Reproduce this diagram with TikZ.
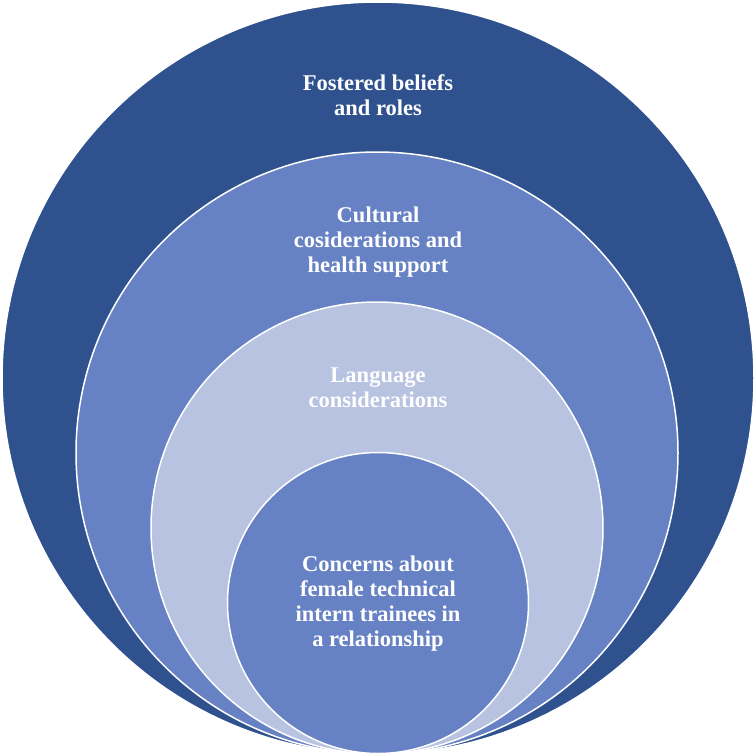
\documentclass[tikz,border=0pt]{standalone}
\usepackage{fontspec}
\setmainfont{Liberation Serif}
\definecolor{darkblue}{HTML}{2F528F}
\definecolor{midblue}{HTML}{6782C4}
\definecolor{lightblue}{HTML}{B7C3E1}
\begin{document}
\begin{tikzpicture}[x=1pt,y=-1pt,
  ring/.style={circle, draw=white, line width=1.5pt, inner sep=0pt, outer sep=0pt},
  txt/.style={text=white, align=center, font=\fontsize{22.5}{25}\selectfont\bfseries, inner sep=0pt}]
\useasboundingbox (0,0) rectangle (756,756);
\node[ring, fill=darkblue, minimum size=752pt] (c1) at (378,378) {};
\node[ring, fill=midblue, minimum size=602pt] (c2) at (377,453) {};
\node[ring, fill=lightblue, minimum size=452pt] (c3) at (377,528) {};
\node[ring, fill=midblue, minimum size=301pt] (c4) at (378,603) {};
\node[txt] (t1) at (378,95) {Fostered beliefs\\and roles};
\node[txt] (t2) at (378,242) {Cultural\\cosiderations and\\health support};
\node[txt] (t3) at (378,388) {Language\\considerations};
\node[txt] (t4) at (378,604) {Concerns about\\female technical\\intern trainees in\\a relationship};
\end{tikzpicture}
\end{document}
